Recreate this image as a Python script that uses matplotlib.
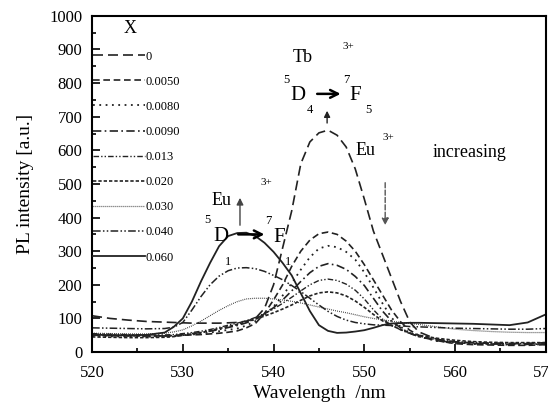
import matplotlib
matplotlib.use("Agg")
import matplotlib.pyplot as plt
from matplotlib.ticker import MultipleLocator

plt.rcParams['font.family'] = ['Liberation Serif', 'DejaVu Serif']

# longueurs d'onde (nm)
wl = [520, 522, 524, 526, 528, 529, 530, 531, 532, 533, 534, 535, 536, 537, 538,
      539, 540, 541, 542, 543, 544, 545, 546, 547, 548, 549, 550, 551, 552, 553,
      554, 555, 556, 558, 560, 562, 564, 566, 568, 570]

labels = ["0", "0.0050", "0.0080", "0.0090", "0.013", "0.020", "0.030", "0.040", "0.060"]

x_0 = [108, 100, 95, 91, 89, 88, 87, 86, 86, 86, 86, 87, 88, 92, 100,
       130, 200, 310, 420, 560, 625, 652, 660, 645, 610, 545, 455, 360, 290, 220,
       150, 90, 60, 38, 30, 27, 26, 25, 25, 28]
x_0050 = [50, 49, 48, 48, 48, 48, 50, 51, 52, 54, 56, 59, 63, 72, 85,
          115, 155, 200, 255, 300, 333, 352, 357, 350, 330, 300, 260, 215, 170, 125,
          90, 65, 50, 34, 25, 22, 21, 20, 20, 22]
x_0080 = [48, 47, 46, 46, 46, 47, 50, 52, 55, 58, 62, 66, 70, 79, 92,
          110, 135, 168, 205, 245, 282, 308, 316, 312, 298, 275, 237, 192, 145, 102,
          75, 57, 46, 33, 27, 24, 23, 22, 22, 23]
x_0090 = [52, 50, 49, 48, 48, 49, 52, 55, 58, 62, 67, 73, 79, 87, 98,
          113, 132, 155, 182, 210, 236, 255, 263, 258, 246, 225, 198, 160, 122, 92,
          72, 56, 46, 34, 28, 25, 24, 23, 23, 24]
x_013 = [55, 53, 52, 51, 51, 52, 55, 58, 62, 67, 73, 80, 86, 93, 103,
         115, 128, 145, 163, 182, 200, 213, 217, 213, 202, 184, 158, 126, 98, 80,
         66, 55, 47, 37, 31, 29, 27, 26, 26, 27]
x_020 = [45, 44, 43, 43, 44, 46, 50, 54, 58, 64, 70, 76, 82, 90, 98,
         107, 117, 128, 140, 154, 167, 176, 179, 176, 167, 152, 133, 112, 93, 79,
         67, 57, 50, 41, 35, 31, 29, 28, 28, 28]
x_030 = [56, 55, 54, 54, 56, 60, 66, 78, 92, 108, 124, 138, 150, 158, 160,
         160, 158, 155, 151, 146, 140, 134, 128, 122, 117, 111, 105, 100, 96, 92,
         88, 85, 82, 75, 68, 64, 61, 59, 58, 58]
x_040 = [72, 71, 70, 69, 70, 74, 88, 125, 165, 200, 226, 242, 250, 251, 248,
         240, 228, 215, 198, 180, 160, 140, 121, 106, 95, 88, 84, 81, 80, 79,
         78, 76, 75, 73, 71, 70, 69, 68, 68, 70]
x_060 = [52, 50, 50, 51, 58, 75, 100, 150, 210, 265, 315, 345, 354, 355, 345,
         325, 298, 265, 228, 175, 122, 80, 63, 57, 58, 61, 65, 72, 80, 85,
         86, 87, 87, 86, 85, 84, 82, 80, 88, 112]

series = [x_0, x_0050, x_0080, x_0090, x_013, x_020, x_030, x_040, x_060]
styles = [(0, (6, 3)), (0, (4, 2.2)), (0, (1, 2.5)), (0, (5, 2, 1, 2)),
          (0, (4, 1.5, 1, 1.5, 1, 1.5)), (0, (2, 1.2)), (0, (0.6, 1)),
          (0, (5, 1.5, 1, 1.5, 1, 1.5)), "-"]
largeurs = [1.2, 1.2, 1.3, 1.2, 1.0, 1.2, 0.9, 1.1, 1.3]
couleur = "#222222"

fig = plt.figure(figsize=(5.48, 4.07), dpi=100)
ax = fig.add_axes([0.168, 0.135, 0.828, 0.826])

for ys, lab, ls, lw in zip(series, labels, styles, largeurs):
    ax.plot(wl, ys, color=couleur, linestyle=ls, linewidth=lw, label=lab)

ax.set_xlim(520, 570)
ax.set_ylim(0, 1000)
ax.xaxis.set_major_locator(MultipleLocator(10))
ax.xaxis.set_minor_locator(MultipleLocator(5))
ax.yaxis.set_major_locator(MultipleLocator(100))
ax.yaxis.set_minor_locator(MultipleLocator(50))
ax.tick_params(which="both", direction="in", width=1.2, labelsize=12)
ax.tick_params(which="major", length=6)
ax.tick_params(axis="x", which="major", pad=9)
ax.tick_params(axis="y", which="major", pad=7)
ax.tick_params(which="minor", length=3)
for s in ax.spines.values():
    s.set_linewidth(1.5)

ax.set_xlabel("Wavelength  /nm", fontsize=14, labelpad=3)
ax.set_ylabel("PL intensity [a.u.]", fontsize=14, labelpad=11)

leg = ax.legend(loc="upper left", bbox_to_anchor=(0, 0.99), frameon=False,
                fontsize=9, handlelength=4.1, handletextpad=0.1,
                labelspacing=1.05, borderaxespad=0, borderpad=0.1,
                title="X", title_fontsize=13)
leg._legend_box.align = "left"
leg.get_title().set_position((30, 0))

# annotations Eu
ax.text(534.3, 452, "Eu", fontsize=13, ha="center", va="center")
ax.text(539.2, 503, "3+", fontsize=8, ha="center", va="center")
ax.text(532.7, 393, "5", fontsize=9, ha="center", va="center")
ax.text(534.2, 345, "D", fontsize=15, ha="center", va="center")
ax.text(535.0, 268, "1", fontsize=9, ha="center", va="center")
ax.annotate("", xy=(539.3, 350), xytext=(535.8, 350),
            arrowprops=dict(arrowstyle="->", lw=1.8, color="black", mutation_scale=14))
ax.text(539.4, 390, "7", fontsize=9, ha="center", va="center")
ax.text(540.6, 342, "F", fontsize=15, ha="center", va="center")
ax.text(541.6, 268, "1", fontsize=9, ha="center", va="center")

# annotations Tb
ax.text(543.2, 875, "Tb", fontsize=13, ha="center", va="center")
ax.text(548.2, 908, "3+", fontsize=8, ha="center", va="center")
ax.text(541.4, 810, "5", fontsize=9, ha="center", va="center")
ax.text(542.7, 762, "D", fontsize=15, ha="center", va="center")
ax.text(544.0, 720, "4", fontsize=9, ha="center", va="center")
ax.annotate("", xy=(547.7, 768), xytext=(544.5, 768),
            arrowprops=dict(arrowstyle="->", lw=1.8, color="black", mutation_scale=14))
ax.text(548.0, 810, "7", fontsize=9, ha="center", va="center")
ax.text(549.0, 762, "F", fontsize=15, ha="center", va="center")
ax.text(550.5, 720, "5", fontsize=9, ha="center", va="center")

ax.text(550.1, 601, "Eu", fontsize=13, ha="center", va="center")
ax.text(552.7, 637, "3+", fontsize=8, ha="center", va="center")
ax.text(561.6, 595, "increasing", fontsize=13, ha="center", va="center")

# flèches
ax.annotate("", xy=(536.3, 467), xytext=(536.3, 369),
            arrowprops=dict(arrowstyle="-|>", lw=1.0, color="#444444", mutation_scale=10))
ax.annotate("", xy=(545.9, 726), xytext=(545.9, 673),
            arrowprops=dict(arrowstyle="-|>", lw=1.0, color="#222222", mutation_scale=9))
ax.annotate("", xy=(552.3, 369), xytext=(552.3, 512),
            arrowprops=dict(arrowstyle="-|>", lw=1.0, color="#555555", linestyle="--",
                            mutation_scale=10))

fig.savefig("out.png", dpi=100)
